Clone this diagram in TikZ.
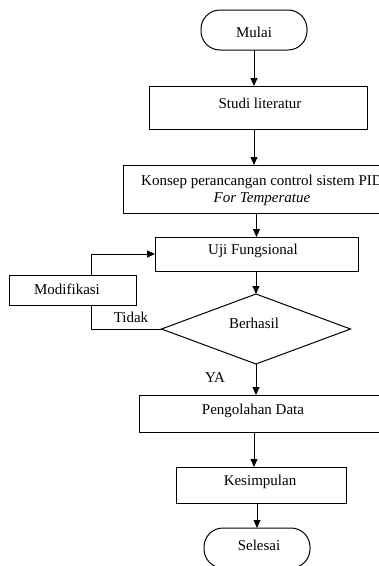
\documentclass[tikz,border=0pt]{standalone}
\usepackage{fontspec}
\setmainfont{Liberation Serif}
\usetikzlibrary{arrows.meta,shapes.geometric,calc}
\begin{document}
\begin{tikzpicture}[x=1pt,y=-1pt,
  font=\fontsize{15}{17}\selectfont,
  every node/.style={inner sep=0pt, outer sep=0pt},
  box/.style={draw, line width=1pt, rectangle},
  term/.style={draw, line width=1pt, rectangle, rounded corners=19pt},
  dia/.style={draw, line width=1pt, diamond, aspect=2.7},
  txt/.style={align=center},
  ln/.style={line width=1pt},
  arr/.style={line width=1pt, -{Triangle[length=8pt,width=7pt]}}]
\useasboundingbox (0,0) rectangle (379,566);
\clip (0,0) rectangle (379,566);
\fill[white] (0,0) rectangle (379,566);
% shapes
\node[term, minimum width=106pt, minimum height=40pt] (mulai) at (254,30) {};
\node[txt] (mulaiT) at (254,32) {Mulai};
\node[box, minimum width=218pt, minimum height=43pt] (studi) at (258,107.5) {};
\node[txt] (studiT) at (260,103) {Studi literatur};
\node[box, minimum width=278pt, minimum height=48pt] (konsep) at (262,189) {};
\node[txt] (konsepT1) at (262,182) {Konsep perancangan control sistem PID};
\node[txt] (konsepT2) at (262,199) {\itshape For Temperatue};
\node[box, minimum width=203pt, minimum height=34pt] (uji) at (256.5,254) {};
\node[txt] (ujiT) at (253,251) {Uji Fungsional};
\node[dia, minimum width=189pt, minimum height=70pt] (cek) at (256,329) {};
\node[txt] (cekT) at (254,323) {Berhasil};
\node[box, minimum width=127pt, minimum height=30pt] (modif) at (72.5,290) {};
\node[txt] (modifT) at (67,289) {Modifikasi};
\node[box, minimum width=251pt, minimum height=37pt] (olah) at (264.5,413.5) {};
\node[txt] (olahT) at (253,411) {Pengolahan Data};
\node[box, minimum width=170pt, minimum height=36pt] (simpul) at (261,485) {};
\node[txt] (simpulT) at (260,482) {Kesimpulan};
\node[term, minimum width=106pt, minimum height=40pt] (selesai) at (257,548) {};
\node[txt] (selesaiT) at (259,545) {Selesai};
% labels
\node[txt] (tidak) at (131,317) {Tidak};
\node[txt] (ya) at (215,378) {YA};
% connectors
\coordinate (lx) at (91,0);
\draw[arr] (mulai.south) -- (mulai.south |- studi.north);
\draw[arr] (studi.south -| mulai.south) -- (mulai.south |- konsep.north);
\draw[arr] (konsep.south -| uji.north) -- (uji.north);
\draw[arr] (uji.south -| cek.north) -- (cek.north);
\draw[arr] (cek.south) -- (cek.south |- olah.north);
\draw[arr] (olah.south -| mulai.south) -- (mulai.south |- simpul.north);
\draw[arr] (simpul.south -| selesai.north) -- (selesai.north);
\draw[ln] (cek.west) -| (modif.south -| lx);
\draw[arr] (modif.north -| lx) |- (uji.west);
\end{tikzpicture}
\end{document}
